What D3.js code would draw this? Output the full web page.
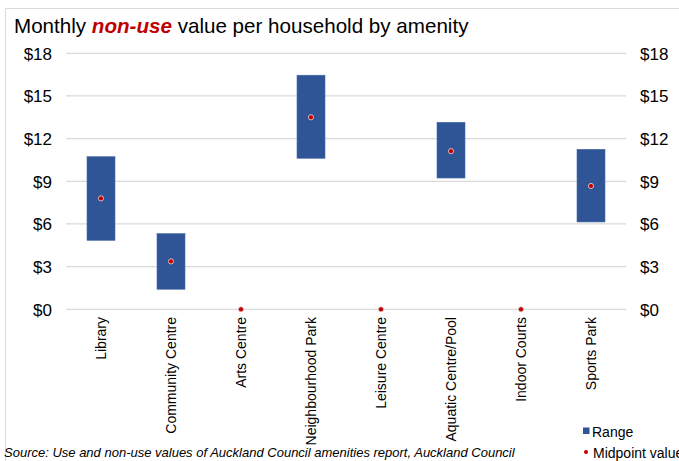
<!DOCTYPE html>
<html lang="en">
<head>
<meta charset="utf-8">
<title>Monthly non-use value</title>
<script src="https://cdn.jsdelivr.net/npm/d3@7"></script>
<style>
  body { margin: 0; background: #fff; }
  svg text { font-family: Arial, "Liberation Sans", sans-serif; fill: #000; }
</style>
</head>
<body>
<svg id="chart" width="679" height="461"></svg>
<script>
// data
var amenities = ["Library", "Community Centre", "Arts Centre", "Neighbourhood Park",
                 "Leisure Centre", "Aquatic Centre/Pool", "Indoor Courts", "Sports Park"];
var rangeLow  = [4.85, 1.41, 0, 10.62, 0, 9.23, 0, 6.14];
var rangeHigh = [10.73, 5.32, 0, 16.46, 0, 13.15, 0, 11.25];
var midpoint  = [7.8, 3.37, 0, 13.5, 0, 11.12, 0, 8.67];
var yTicks = [0, 3, 6, 9, 12, 15, 18];

var svg = d3.select("#chart");
var plotLeft = 66, plotRight = 626, plotTop = 53.3, plotBottom = 309.3;

var xc = d3.scalePoint().domain(amenities).range([plotLeft, plotRight]).padding(0.5);
var y = d3.scaleLinear().domain([0, 18]).range([plotBottom, plotTop]);

// outer frame lines
svg.append("line").attr("x1", 5.5).attr("x2", 679).attr("y1", 8.5).attr("y2", 8.5)
  .attr("stroke", "#d9d9d9");
svg.append("line").attr("x1", 5.5).attr("x2", 5.5).attr("y1", 8.5).attr("y2", 461)
  .attr("stroke", "#d9d9d9");

// title
var title = svg.append("text").attr("x", 14).attr("y", 33).style("font-size", "20.6px");
title.append("tspan").text("Monthly ");
title.append("tspan").text("non-use").style("font-weight", "bold").style("font-style", "italic")
  .style("fill", "#c00000");
title.append("tspan").text(" value per household by amenity");

// gridlines
svg.append("g").selectAll("line").data(yTicks).join("line")
  .attr("x1", plotLeft).attr("x2", plotRight)
  .attr("y1", function(d) { return y(d); }).attr("y2", function(d) { return y(d); })
  .attr("stroke", "#d9d9d9").attr("stroke-width", 1.2);

// left axis
var yl = svg.append("g").attr("transform", "translate(52,0)")
  .call(d3.axisLeft(y).tickValues(yTicks).tickSize(0).tickPadding(0)
    .tickFormat(function(d) { return "$" + d; }));
yl.select(".domain").remove();
yl.selectAll("text").style("font-size", "17px").attr("dy", "0.35em")
  .style("font-family", "Arial, 'Liberation Sans', sans-serif");

// right axis
var yr = svg.append("g").attr("transform", "translate(640,0)")
  .call(d3.axisRight(y).tickValues(yTicks).tickSize(0).tickPadding(0)
    .tickFormat(function(d) { return "$" + d; }));
yr.select(".domain").remove();
yr.selectAll("text").style("font-size", "17px").attr("dy", "0.35em")
  .style("font-family", "Arial, 'Liberation Sans', sans-serif");

// range bars
svg.append("g").selectAll("rect").data(amenities).join("rect")
  .attr("x", function(d) { return xc(d) - 14; })
  .attr("width", 28)
  .attr("y", function(d, i) { return y(rangeHigh[i]); })
  .attr("height", function(d, i) { return y(rangeLow[i]) - y(rangeHigh[i]); })
  .attr("fill", "#2f5597")
  .attr("stroke", "#4a6ca8").attr("stroke-width", 0.6);

// midpoints
svg.append("g").selectAll("circle").data(amenities).join("circle")
  .attr("cx", function(d) { return xc(d); })
  .attr("cy", function(d, i) { return y(midpoint[i]); })
  .attr("r", 2.6)
  .attr("fill", "#c00000")
  .attr("stroke", "#e8d8dc").attr("stroke-width", 0.8);

// category labels
svg.append("g").selectAll("text").data(amenities).join("text")
  .attr("transform", function(d) { return "translate(" + (xc(d) + 5) + "," + 317 + ") rotate(-90)"; })
  .attr("text-anchor", "end")
  .style("font-size", "14px")
  .text(function(d) { return d; });

// source
svg.append("text").attr("x", 4).attr("y", 457)
  .style("font-size", "13px").style("font-style", "italic")
  .text("Source: Use and non-use values of Auckland Council amenities report, Auckland Council");

// legend
var lg = svg.append("g");
lg.append("rect").attr("x", 583).attr("y", 427.5).attr("width", 6.5).attr("height", 6.5).attr("fill", "#2f5597");
lg.append("text").attr("x", 592).attr("y", 436.5).style("font-size", "14px").text("Range");
lg.append("circle").attr("cx", 586).attr("cy", 452).attr("r", 2).attr("fill", "#c00000");
lg.append("text").attr("x", 593).attr("y", 458).style("font-size", "14px").text("Midpoint value");
</script>
</body>
</html>
